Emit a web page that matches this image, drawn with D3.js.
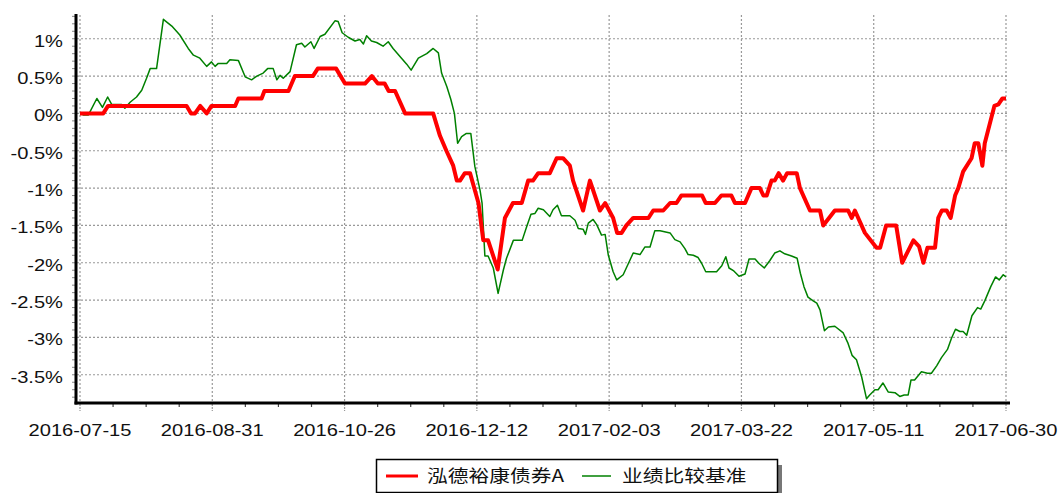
<!DOCTYPE html>
<html>
<head>
<meta charset="utf-8">
<script src="https://cdn.jsdelivr.net/npm/d3@7/dist/d3.min.js"></script>
<style>
  body { margin: 0; background: #fff; }
  svg { display: block; }
  text { font-family: "Liberation Sans", Arial, sans-serif; fill: #111; }
  .legend-text { font-family: "Noto Sans CJK SC", "Liberation Sans", sans-serif; }
</style>
</head>
<body>
<svg width="1059" height="493"></svg>
<script>
// trading-day index of each labelled date
const dateLabels = ['2016-07-15', '2016-08-31', '2016-10-26', '2016-12-12', '2017-02-03', '2017-03-22', '2017-05-11', '2017-06-30'];
const labelIdx = [0, 33, 66, 99, 132, 165, 198, 231];
const yTicks = [1, 0.5, 0, -0.5, -1, -1.5, -2, -2.5, -3, -3.5];
const seriesNames = ['泓德裕康债券A', '业绩比较基准'];

// [trading day, cumulative return %]
const fundSeries = [
    [0, 0], [5.8, 0], [7, 0.1], [26.6, 0.1], [27.7, 0], [28.7, 0], [30, 0.1], [31.6, 0], [32.8, 0.1],
    [38.7, 0.1], [39.5, 0.2], [45.3, 0.2], [46, 0.3], [52, 0.3], [53.6, 0.5], [58.1, 0.5], [59.3, 0.6],
    [63.9, 0.6], [66.1, 0.4], [71.1, 0.4], [72.8, 0.5], [74.3, 0.4], [76, 0.4], [77, 0.3], [78.6, 0.3],
    [81.1, 0], [88.1, 0], [89.8, -0.3], [91.4, -0.5], [93.1, -0.7], [94, -0.9], [94.8, -0.9], [96, -0.8],
    [97.3, -0.8], [99.4, -1.2], [100.6, -1.7], [101.8, -1.7], [104.2, -2.09], [106, -1.4], [108, -1.2],
    [110.2, -1.2], [111.8, -0.9], [113, -0.9], [114.3, -0.8], [117.2, -0.8], [118.9, -0.6], [120.5, -0.6],
    [122.2, -0.7], [123, -0.9], [125.5, -1.3], [127.2, -0.9], [129.7, -1.3], [131, -1.2], [133, -1.4],
    [134, -1.6], [135.1, -1.6], [136.3, -1.5], [138, -1.4], [141.8, -1.4], [143, -1.3], [145.5, -1.3],
    [147.2, -1.2], [148.8, -1.2], [150, -1.1], [155.2, -1.1], [156.1, -1.2], [158.4, -1.2], [160, -1.1],
    [162.5, -1.1], [163.4, -1.2], [165.9, -1.2], [167.5, -1.0], [169.6, -1.0], [170.5, -1.1], [171.3, -1.1],
    [172.5, -0.9], [173.3, -0.9], [174.3, -0.8], [175.4, -0.9], [176.4, -0.8], [178.8, -0.8], [179.6, -1.0],
    [182.1, -1.3], [184.6, -1.3], [185.4, -1.5], [188.3, -1.3], [191.6, -1.3], [192.5, -1.4], [193.3, -1.3],
    [195.8, -1.6], [198.7, -1.8], [199.6, -1.8], [201.1, -1.5], [203.6, -1.5], [205.1, -2.0], [207.9, -1.7],
    [209.3, -1.78], [210.4, -2.0], [211.4, -1.8], [213.3, -1.8], [214.1, -1.4], [215, -1.3], [216.2, -1.3],
    [217.2, -1.4], [218.3, -1.1], [219.1, -1.0], [220.3, -0.78], [222.4, -0.6], [223.2, -0.4], [224.1, -0.4],
    [225.1, -0.7], [225.7, -0.4], [228.1, 0.1], [229.1, 0.12], [230.1, 0.2], [231, 0.2]
];

const benchSeries = [
    [0, 0], [0.8, -0.02], [2.1, -0.02], [4.2, 0.2], [5.6, 0.08], [6.9, 0.22], [7.9, 0.12], [10.4, 0.12],
    [11.2, 0.07], [12.5, 0.15], [14.1, 0.22], [15.4, 0.31], [16.6, 0.47], [17.5, 0.6], [19.1, 0.6],
    [20.8, 1.26], [22.9, 1.17], [24.9, 1.05], [27, 0.87], [28.3, 0.78], [29.9, 0.74], [31.6, 0.63],
    [32.8, 0.69], [33.7, 0.63], [34.5, 0.67], [36.6, 0.67], [37.4, 0.72], [39.5, 0.71], [41.2, 0.49],
    [42.8, 0.45], [44.1, 0.5], [45.7, 0.54], [46.8, 0.6], [48.2, 0.6], [49.1, 0.45], [49.9, 0.51],
    [50.7, 0.47], [52.4, 0.56], [54, 0.92], [55.3, 0.94], [56.1, 0.89], [57.6, 0.96], [58.4, 0.87],
    [59.9, 1.03], [61.1, 1.06], [63.6, 1.24], [64.4, 1.23], [65.4, 1.08], [66.9, 1.02], [68.6, 0.97],
    [69.8, 0.99], [70.7, 0.93], [71.5, 1.04], [72.7, 0.97], [74, 0.95], [75.6, 0.9], [76.9, 0.96],
    [78.1, 0.87], [80.2, 0.74], [81.5, 0.66], [82.6, 0.58], [84.4, 0.74], [86.5, 0.8], [88.1, 0.87],
    [89.4, 0.81], [90.2, 0.54], [91.5, 0.36], [92.5, 0.19], [93.4, 0], [94.2, -0.4], [95.2, -0.31],
    [96.3, -0.27], [97.5, -0.27], [98.5, -0.71], [99.8, -1.03], [100.3, -1.2], [101, -1.91], [101.8, -1.91],
    [103.1, -2.07], [104.3, -2.41], [105.6, -2.1], [106.4, -1.94], [108.1, -1.7], [110.3, -1.7],
    [111.4, -1.52], [112.5, -1.35], [113.5, -1.34], [114.3, -1.27], [115.6, -1.29], [117.2, -1.38],
    [118, -1.29], [119.1, -1.23], [120.1, -1.37], [122.2, -1.37], [123.5, -1.43], [124.3, -1.54],
    [125.5, -1.55], [126.1, -1.62], [126.8, -1.47], [128, -1.42], [128.9, -1.49], [130.1, -1.63],
    [131, -1.62], [131.8, -1.9], [133, -2.12], [133.9, -2.23], [135.5, -2.16], [136.8, -2.01],
    [138, -1.87], [139.7, -1.89], [140.9, -1.79], [142.2, -1.79], [143.4, -1.57], [144.7, -1.57],
    [147.2, -1.6], [148.4, -1.69], [149.7, -1.72], [150.9, -1.81], [151.7, -1.89], [153, -1.9],
    [154.2, -1.93], [155.1, -2.01], [156.1, -2.12], [157.1, -2.12], [158.8, -2.12], [160.1, -2.04],
    [161.1, -1.92], [161.9, -2.07], [163.1, -2.11], [164.4, -2.18], [165.9, -2.15], [166.9, -1.95],
    [168.4, -1.95], [169.4, -2.01], [170.7, -2.07], [172.1, -1.97], [173.3, -1.87], [174.6, -1.84],
    [175.8, -1.88], [177.5, -1.91], [178.9, -1.94], [179.7, -2.14], [180.6, -2.32], [181.6, -2.46],
    [182.9, -2.51], [183.8, -2.54], [184.6, -2.63], [185.7, -2.91], [186.7, -2.86], [188.3, -2.85],
    [190.4, -2.94], [191.6, -3.08], [192.6, -3.24], [193.7, -3.3], [195, -3.53], [196.2, -3.82],
    [197, -3.77], [198.3, -3.7], [199.1, -3.7], [200.3, -3.61], [201.6, -3.73], [203.3, -3.74],
    [204.5, -3.79], [205.6, -3.77], [206.6, -3.77], [207.3, -3.57], [208.2, -3.57], [209.9, -3.46],
    [211.4, -3.48], [212.4, -3.48], [213.7, -3.38], [214.9, -3.27], [216.4, -3.16], [217.4, -3.01],
    [218.4, -2.89], [219.5, -2.92], [220.3, -2.92], [221.2, -2.97], [222.5, -2.71], [223.9, -2.6],
    [224.7, -2.62], [225.7, -2.51], [227.2, -2.32], [228.4, -2.19], [229.3, -2.23], [230.3, -2.16],
    [231, -2.19]
];

const svg = d3.select('svg');
const plot = { left: 77, right: 1008, top: 15, bottom: 403 };
const stretch = 1.22; // the reference text is drawn wide

const xScale = d3.scaleLinear().domain([0, 231]).range([80, 1006]);
const yScale = d3.scaleLinear().domain([-3.878, 1.318]).range([plot.bottom, plot.top]);

// grid
svg.append('g')
    .selectAll('line')
    .data(yTicks)
    .enter()
    .append('line')
    .attr('x1', plot.left).attr('x2', plot.right)
    .attr('y1', (d) => yScale(d)).attr('y2', (d) => yScale(d))
    .attr('stroke', '#999').attr('stroke-width', 1.2).attr('stroke-dasharray', '2,2');

svg.append('g')
    .selectAll('line')
    .data(labelIdx)
    .enter()
    .append('line')
    .attr('x1', (d) => xScale(d)).attr('x2', (d) => xScale(d))
    .attr('y1', plot.top).attr('y2', plot.bottom)
    .attr('stroke', '#999').attr('stroke-width', 1.2).attr('stroke-dasharray', '2,2');

// y minor ticks every 0.1%
svg.append('g')
    .selectAll('line')
    .data(d3.range(-38, 14).map((v) => v / 10))
    .enter()
    .append('line')
    .attr('x1', 72).attr('x2', 76)
    .attr('y1', (d) => yScale(d)).attr('y2', (d) => yScale(d))
    .attr('stroke', '#888').attr('stroke-width', 1);

// x minor + major ticks
svg.append('g')
    .selectAll('line')
    .data(d3.range(0, 232, 8.25))
    .enter()
    .append('line')
    .attr('x1', (d) => xScale(d)).attr('x2', (d) => xScale(d))
    .attr('y1', 404).attr('y2', (d) => (labelIdx.includes(d) ? 411 : 407))
    .attr('stroke', (d) => (labelIdx.includes(d) ? '#999' : '#444'))
    .attr('stroke-width', 1.2)
    .attr('stroke-dasharray', (d) => (labelIdx.includes(d) ? '2,1' : null));

// axes
svg.append('line')
    .attr('x1', 76).attr('x2', 76).attr('y1', 14).attr('y2', 404.5)
    .attr('stroke', '#000').attr('stroke-width', 3);
svg.append('line')
    .attr('x1', 74.5).attr('x2', 1010).attr('y1', 403).attr('y2', 403)
    .attr('stroke', '#000').attr('stroke-width', 3);

// tick labels
svg.append('g')
    .selectAll('text')
    .data(yTicks)
    .enter()
    .append('text')
    .attr('transform', (d) => `translate(63, ${yScale(d) + 8}) scale(${stretch}, 1)`)
    .attr('text-anchor', 'end')
    .attr('font-size', 16.5)
    .text((d) => `${d}%`);

svg.append('g')
    .selectAll('text')
    .data(labelIdx)
    .enter()
    .append('text')
    .attr('transform', (d) => `translate(${xScale(d)}, 436) scale(${stretch}, 1)`)
    .attr('text-anchor', 'middle')
    .attr('font-size', 16.5)
    .text((d, i) => dateLabels[i]);

// series
const line = d3.line()
    .x((d) => xScale(d[0]))
    .y((d) => yScale(d[1]));

svg.append('path')
    .datum(benchSeries)
    .attr('d', line)
    .attr('fill', 'none')
    .attr('stroke', '#008000')
    .attr('stroke-width', 1.5)
    .attr('stroke-linejoin', 'round');

svg.append('path')
    .datum(fundSeries)
    .attr('d', line)
    .attr('fill', 'none')
    .attr('stroke', '#ff0000')
    .attr('stroke-width', 4)
    .attr('stroke-linejoin', 'round');

// legend
const legend = svg.append('g');
legend.append('rect')
    .attr('x', 778).attr('y', 465).attr('width', 4).attr('height', 28)
    .attr('fill', '#777');
legend.append('rect')
    .attr('x', 376.5).attr('y', 459.5).attr('width', 401).attr('height', 33)
    .attr('fill', '#fff').attr('stroke', '#000').attr('stroke-width', 1.5);

const legendItems = [
    { x: 386, w: 32, tx: 427, color: '#ff0000', sw: 3 },
    { x: 582, w: 29, tx: 622, color: '#008000', sw: 1.5 }
];
legendItems.forEach((item, i) => {
    legend.append('line')
        .attr('x1', item.x).attr('x2', item.x + item.w)
        .attr('y1', 476).attr('y2', 476)
        .attr('stroke', item.color).attr('stroke-width', item.sw);
    legend.append('text')
        .attr('class', 'legend-text')
        .attr('transform', `translate(${item.tx}, 482) scale(${stretch}, 1)`)
        .attr('font-size', 17)
        .text(seriesNames[i]);
});
</script>
</body>
</html>
